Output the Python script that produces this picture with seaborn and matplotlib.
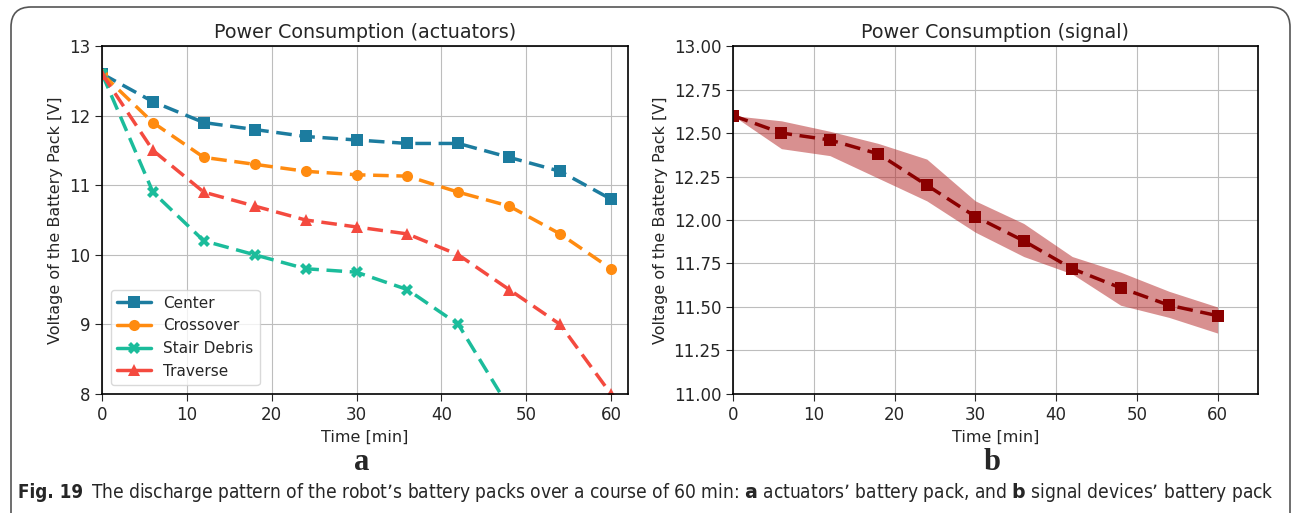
import numpy as np
import pandas as pd
import seaborn as sns
import matplotlib.pyplot as plt
from matplotlib.patches import FancyBboxPatch

# time axis (minutes)
time = [0, 6, 12, 18, 24, 30, 36, 42, 48, 54, 60]

# actuators battery pack
center = [12.6, 12.2, 11.9, 11.8, 11.7, 11.65, 11.6, 11.6, 11.4, 11.2, 10.8]
crossover = [12.6, 11.9, 11.4, 11.3, 11.2, 11.15, 11.13, 10.9, 10.7, 10.3, 9.8]
stair_debris = [12.6, 10.9, 10.2, 10.0, 9.8, 9.75, 9.5, 9.0, 7.8]
traverse = [12.6, 11.5, 10.9, 10.7, 10.5, 10.4, 10.3, 10.0, 9.5, 9.0, 8.0]

# signal battery pack
signal_mean = [12.6, 12.5, 12.46, 12.38, 12.2, 12.02, 11.88, 11.72, 11.61, 11.51, 11.45]
signal_upper = [12.6, 12.57, 12.51, 12.44, 12.35, 12.11, 11.98, 11.79, 11.70, 11.59, 11.50]
signal_lower = [12.6, 12.41, 12.37, 12.24, 12.11, 11.93, 11.79, 11.69, 11.51, 11.44, 11.35]

series = {"Center": center, "Crossover": crossover,
          "Stair Debris": stair_debris, "Traverse": traverse}
palette = {"Center": "#1c7c9f", "Crossover": "#ff8b10",
           "Stair Debris": "#1bbc9b", "Traverse": "#f44a3f"}
markers = {"Center": "s", "Crossover": "o", "Stair Debris": "X", "Traverse": "^"}

rows = []
for name, vals in series.items():
    for t, v in zip(time, vals):
        rows.append({"time": t, "voltage": v, "test": name})
df = pd.DataFrame(rows)

sig = pd.DataFrame({"time": time, "voltage": signal_mean})

sns.set_style("whitegrid", {"axes.edgecolor": "black", "grid.color": "#bdbdbd",
                            "xtick.bottom": True, "ytick.left": True})
plt.rcParams["font.family"] = ["DejaVu Sans"]
plt.rcParams["xtick.major.size"] = 5
plt.rcParams["ytick.major.size"] = 5

dash = (0, (4.5, 2.2))

fig = plt.figure(figsize=(12.95, 5.13), dpi=100)
ax1 = fig.add_axes([0.0788, 0.232, 0.4061, 0.6783])
ax2 = fig.add_axes([0.566, 0.232, 0.4054, 0.6783])

sns.lineplot(data=df, x="time", y="voltage", hue="test", style="test",
             palette=palette, markers=markers, dashes=False,
             linewidth=2.5, markersize=8, markeredgewidth=0, sort=False, ax=ax1)
for line in ax1.get_lines():
    line.set_linestyle(dash)
ax1.set_xlim(0, 62)
ax1.set_ylim(8, 13)
ax1.set_xticks(range(0, 61, 10))
ax1.set_yticks(range(8, 14))
ax1.set_title("Power Consumption (actuators)", fontsize=13.8)
ax1.set_xlabel("Time [min]", fontsize=11.5)
ax1.set_ylabel("Voltage of the Battery Pack [V]", fontsize=11.5)
ax1.tick_params(labelsize=12)
h, l = ax1.get_legend_handles_labels()
for hh in h:
    hh.set_linestyle("-")
ax1.legend(h, l, loc="lower left", fontsize=11, frameon=True, labelspacing=0.5,
           edgecolor="#d0d0d0", borderaxespad=0.6, handlelength=2.2)

ax2.fill_between(time, signal_lower, signal_upper, color="#b22222",
                 alpha=0.5, linewidth=0)
sns.lineplot(data=sig, x="time", y="voltage", color="#8b0000", marker="s",
             linewidth=2.5, markersize=9, markeredgewidth=0, ax=ax2)
ax2.get_lines()[0].set_linestyle(dash)
ax2.set_xlim(0, 65)
ax2.set_ylim(11, 13)
ax2.set_xticks(range(0, 61, 10))
ax2.set_yticks(np.arange(11, 13.01, 0.25))
ax2.yaxis.set_major_formatter(plt.FormatStrFormatter("%.2f"))
ax2.set_title("Power Consumption (signal)", fontsize=13.8)
ax2.set_xlabel("Time [min]", fontsize=11.5)
ax2.set_ylabel("Voltage of the Battery Pack [V]", fontsize=11.5)
ax2.tick_params(labelsize=12)

for ax in (ax1, ax2):
    for s in ax.spines.values():
        s.set_linewidth(1.2)

fig.text(362 / 1295, 1 - 463 / 513, "a", ha="center", va="center",
         fontsize=22, fontweight="bold", family="Liberation Serif")
fig.text(992 / 1295, 1 - 463 / 513, "b", ha="center", va="center",
         fontsize=22, fontweight="bold", family="Liberation Serif")

# caption: bold label, then the sentence fitted to the reference width
cap_y = 1 - 493 / 513
cap_size = 13.5
t1 = fig.text(18 / 1295, cap_y, "Fig. 19", ha="left", va="center", fontsize=cap_size,
              fontweight="bold", fontstretch="condensed")
r = fig.canvas.get_renderer()
x2 = t1.get_window_extent(r).x1 + 8
caption = ("The discharge pattern of the robot\u2019s battery packs over a course of 60 min: "
           "$\\bf{a}$ actuators\u2019 battery pack, and $\\bf{b}$ signal devices\u2019 battery pack")
t2 = fig.text(x2 / 1295, cap_y, caption, ha="left", va="center", fontsize=cap_size,
              fontstretch="condensed")
w2 = t2.get_window_extent(r).width
t2.set_fontsize(cap_size * (1275 - x2) / w2)

border = FancyBboxPatch((0.11, -0.2), 12.79, 5.26, boxstyle="round,pad=0,rounding_size=0.2",
                        transform=fig.dpi_scale_trans, facecolor="none",
                        edgecolor="#555555", linewidth=1.2)
fig.patches.append(border)

fig.savefig("out.png", dpi=100)
